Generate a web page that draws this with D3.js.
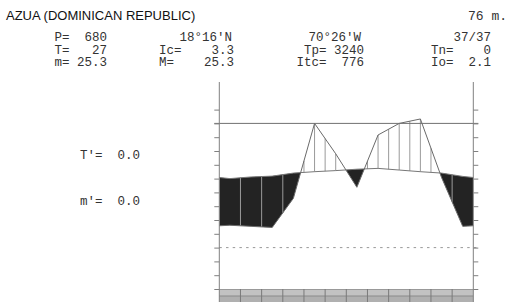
<!DOCTYPE html>
<html><head><meta charset="utf-8">
<script src="https://cdn.jsdelivr.net/npm/d3@7"></script>
<style>body{margin:0;background:#fff}svg{display:block}</style>
</head><body><svg id="c" width="521" height="302"></svg>
<script>
// ---- data ----
const months = ["Jan","Feb","Mar","Apr","May","Jun","Jul","Aug","Sep","Oct","Nov","Dec"];
const temperature = [25.0, 25.6, 25.9, 27.0, 27.5, 27.9, 28.4, 28.7, 28.1, 27.5, 27.0, 25.8]; // °C
const precipitation = [16.2, 15.4, 14.6, 35.7, 90.0, 68.0, 43.7, 81.6, 90.0, 93.2, 50.8, 15.4]; // mm
const yTicks = d3.range(-15, 51, 5);
const refLine = 45;
const zeroLine = 0;
const title = "AZUA (DOMINICAN REPUBLIC)";
const altitude = "76 m.";
const headerCol1 = ["P=  680", "T=   27", "m= 25.3"];
const headerCol2 = ["18°16'N", "Ic=    3.3", "M=    25.3"];
const headerCol3 = ["70°26'W", "Tp= 3240", "Itc=  776"];
const headerCol4 = ["37/37", "Tn=    0", "Io=  2.1"];
const sideLabels = ["T'=  0.0", "m'=  0.0"];

// ---- layout ----
const svg = d3.select("#c");
const L = 219.3, R = 473.3, TOP = 82, BOT = 289;
const x = d3.scaleLinear().domain([0, 12]).range([L, R]);
const y = d3.scaleLinear().domain([-15, 60]).range([BOT, TOP]);
const mono = "'Courier New','Liberation Mono',monospace";

// nodes with wrap-around edges
const pC = precipitation.map(v => v / 2);
const edgeT = (temperature[0] + temperature[11]) / 2;
const edgeP = (pC[0] + pC[11]) / 2;
const nodes = [{m: 0, t: edgeT, p: edgeP}]
  .concat(months.map((mo, i) => ({m: i + 0.5, t: temperature[i], p: pC[i]})))
  .concat([{m: 12, t: edgeT, p: edgeP}]);
function interp(xm, key) {
  for (let i = 0; i < nodes.length - 1; i++) {
    const a = nodes[i], b = nodes[i + 1];
    if (xm >= a.m && xm <= b.m) {
      const f = (xm - a.m) / (b.m - a.m);
      return a[key] + f * (b[key] - a[key]);
    }
  }
  return nodes[nodes.length - 1][key];
}

// bottom bar
svg.append("rect").attr("x", L).attr("y", BOT).attr("width", R - L).attr("height", 7).attr("fill", "#c2c2c2");
svg.append("rect").attr("x", L).attr("y", BOT + 7).attr("width", R - L).attr("height", 10).attr("fill", "#b0b0b0");
svg.append("line").attr("x1", L).attr("x2", R).attr("y1", BOT + 7).attr("y2", BOT + 7).attr("stroke", "#8a8a8a");
svg.append("line").attr("x1", L).attr("x2", R).attr("y1", BOT + 0.5).attr("y2", BOT + 0.5).attr("stroke", "#999");
svg.selectAll(".mb").data(d3.range(1, 12)).enter().append("line")
  .attr("x1", d => x(d)).attr("x2", d => x(d)).attr("y1", BOT).attr("y2", 302)
  .attr("stroke", "#7a7a7a").attr("stroke-width", 1);

// zero dashed line
svg.append("line").attr("x1", L).attr("x2", R + 5).attr("y1", y(zeroLine)).attr("y2", y(zeroLine))
  .attr("stroke", "#999").attr("stroke-dasharray", "2.5,4.2");

// dry area (T > P) : above P curve, clipped below T curve
const defs = svg.append("defs");
defs.append("clipPath").attr("id", "belowT").append("path")
  .attr("d", d3.area().x(d => x(d.m)).y0(y(-15)).y1(d => y(d.t))(nodes));
svg.append("path")
  .attr("d", d3.area().x(d => x(d.m)).y0(d => y(d.p)).y1(y(60))(nodes))
  .attr("fill", "#232323").attr("clip-path", "url(#belowT)");

// humid hatching at half-month steps
const half = d3.range(1, 24).map(k => k / 2);
half.forEach(xm => {
  const t = interp(xm, "t"), p = interp(xm, "p");
  if (p > t) {
    svg.append("line").attr("x1", x(xm)).attr("x2", x(xm)).attr("y1", y(t)).attr("y2", y(p))
      .attr("stroke", "#9a9a9a").attr("stroke-width", 1);
  }
});
// dry hatching at month boundaries
d3.range(1, 12).forEach(xm => {
  const t = interp(xm, "t"), p = interp(xm, "p");
  if (t > p) {
    svg.append("line").attr("x1", x(xm)).attr("x2", x(xm)).attr("y1", y(p)).attr("y2", y(t))
      .attr("stroke", "#9a9a9a").attr("stroke-width", 1);
  }
});

// curves
const lineT = d3.line().x(d => x(d.m)).y(d => y(d.t));
const lineP = d3.line().x(d => x(d.m)).y(d => y(d.p));
svg.append("path").attr("d", lineT(nodes)).attr("fill", "none").attr("stroke", "#777").attr("stroke-width", 1);
svg.append("path").attr("d", lineP(nodes)).attr("fill", "none").attr("stroke", "#6a6a6a").attr("stroke-width", 1);

// reference line
svg.append("line").attr("x1", L - 5).attr("x2", R + 5).attr("y1", y(refLine)).attr("y2", y(refLine))
  .attr("stroke", "#707070").attr("stroke-width", 1);

// axes
const axL = d3.axisLeft(y).tickValues(yTicks).tickSize(5).tickFormat("");
const axR = d3.axisRight(y).tickValues(yTicks).tickSize(5).tickFormat("");
const gL = svg.append("g").attr("transform", `translate(${L},0)`).call(axL);
const gR = svg.append("g").attr("transform", `translate(${R},0)`).call(axR);
[gL, gR].forEach(g => {
  g.select(".domain").remove();
  g.selectAll(".tick line").attr("stroke", "#808080");
});
svg.append("line").attr("x1", L).attr("x2", L).attr("y1", TOP).attr("y2", 302).attr("stroke", "#808080");
svg.append("line").attr("x1", R).attr("x2", R).attr("y1", TOP).attr("y2", 302).attr("stroke", "#808080");

// texts
svg.append("text").attr("x", 6).attr("y", 20).text(title)
  .attr("font-family", "'Liberation Sans',Arial,sans-serif").attr("font-size", 13).attr("fill", "#111");
svg.append("text").attr("x", 507).attr("y", 20).attr("text-anchor", "end").text(altitude)
  .attr("font-family", mono).attr("font-size", 13).attr("fill", "#333");
const colEnds = [107, 232, 361, 491];
const colEndsNum = [107, 234, 364, 491];
const rowsY = [41, 53.5, 66];
[headerCol1, headerCol2, headerCol3, headerCol4].forEach((col, ci) => {
  col.forEach((s, ri) => {
    svg.append("text").attr("x", ri === 0 ? colEnds[ci] : colEndsNum[ci]).attr("y", rowsY[ri])
      .attr("text-anchor", "end").style("white-space", "pre")
      .attr("font-family", mono).attr("font-size", 12.5).attr("fill", "#333").text(s);
  });
});
const sideY = [159, 205];
sideLabels.forEach((s, i) => {
  svg.append("text").attr("x", 80).attr("y", sideY[i]).style("white-space", "pre")
    .attr("font-family", mono).attr("font-size", 12.5).attr("fill", "#333").text(s);
});
</script>
</body></html>
